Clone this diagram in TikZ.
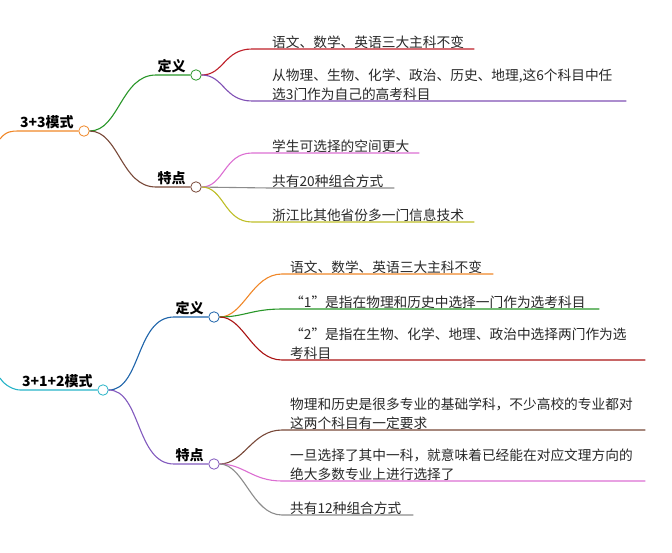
\documentclass[tikz,border=0pt]{standalone}
\usepackage{fontspec}
\setmainfont{Noto Sans CJK SC}
\usepackage{tikz}
\usetikzlibrary{positioning,calc}
\definecolor{mmorange}{RGB}{240,135,40}
\definecolor{mmgreen}{RGB}{40,150,40}
\definecolor{mmbrown}{RGB}{120,72,56}
\definecolor{mmred}{RGB}{190,30,40}
\definecolor{mmpurple}{RGB}{128,80,180}
\definecolor{mmpink}{RGB}{220,110,210}
\definecolor{mmgray}{RGB}{140,140,140}
\definecolor{mmolive}{RGB}{190,190,40}
\definecolor{mmteal}{RGB}{40,180,200}
\definecolor{mmblue}{RGB}{30,100,170}
\definecolor{mmviolet}{RGB}{130,90,190}
\definecolor{mmdarkred}{RGB}{170,20,20}
\definecolor{mmtext}{RGB}{40,40,40}
\tikzset{
  topic/.style={
    inner sep=1.5pt, font=\fontsize{14}{16}\selectfont\bfseries, text=black
  },
  dot/.style={
    circle, draw, thick, fill=white, minimum size=10.5pt, inner sep=0pt
  },
  leaf/.style={
    anchor=south west, inner xsep=2pt, inner ysep=0.3pt, align=left,
    font=\fontsize{13.7}{19}\selectfont, text=mmtext
  },
  link/.style={line width=1.1pt},
  linkO/.style={link, mmorange},
  linkG/.style={link, mmgreen},
  linkB/.style={link, mmbrown},
  linkR/.style={link, mmred},
  linkP/.style={link, mmpurple},
  linkK/.style={link, mmpink},
  linkY/.style={link, mmgray},
  linkL/.style={link, mmolive},
  linkT/.style={link, mmteal},
  linkU/.style={link, mmblue},
  linkV/.style={link, mmviolet},
  linkD/.style={link, mmdarkred}
}
\begin{document}
\begin{tikzpicture}[x=1pt, y=-1pt]
  \useasboundingbox (0,0) rectangle (672,552);

  % first mode: 3+3
  \coordinate (in1) at (0,139);
  \node[dot, draw=mmorange] (r1c) at (84,131) {};
  \node[topic, above left=0pt and 3pt of r1c.west] (r1) {3+3模式};
  \node[dot, draw=mmgreen]  (d1c) at (196,75) {};
  \node[topic, above left=0pt and 3pt of d1c.west] (d1) {定义};
  \node[dot, draw=mmbrown]  (t1c) at (196,187) {};
  \node[topic, above left=0pt and 3pt of t1c.west] (t1) {特点};

  \node[leaf, text width=200pt] (l1) at (270,49)  {语文、数学、英语三大主科不变};
  \node[leaf, text width=352pt] (l2) at (270,101) {从物理、生物、化学、政治、历史、地理,这6个科目中任\\选3门作为自己的高考科目};
  \node[leaf, text width=145pt] (l3) at (270,153) {学生可选择的空间更大};
  \node[leaf, text width=120pt] (l4) at (270,188) {共有20种组合方式};
  \node[leaf, text width=200pt] (l5) at (270,222) {浙江比其他省份多一门信息技术};

  \draw[linkO] (in1) .. controls +(6,-8) and +(-6,0) .. (r1.south west) -- (r1c);
  \draw[linkG] (r1c) .. controls +(35,0) and +(-35,0) .. (d1.south west) -- (d1c);
  \draw[linkB] (r1c) .. controls +(35,0) and +(-35,0) .. (t1.south west) -- (t1c);
  \draw[linkR] (d1c) .. controls +(28,0) and +(-28,0) .. ([xshift=-18pt]l1.south west) -- (l1.south east);
  \draw[linkP] (d1c) .. controls +(28,0) and +(-28,0) .. ([xshift=-18pt]l2.south west) -- (l2.south east);
  \draw[linkK] (t1c) .. controls +(28,0) and +(-28,0) .. ([xshift=-18pt]l3.south west) -- (l3.south east);
  \draw[linkY] (t1c) -- (l4.south west) -- (l4.south east);
  \draw[linkL] (t1c) .. controls +(28,0) and +(-28,0) .. ([xshift=-18pt]l5.south west) -- (l5.south east);

  % second mode: 3+1+2
  \coordinate (in2) at (0,378);
  \node[dot, draw=mmteal]   (r2c) at (103,390) {};
  \node[topic, above left=0pt and 3pt of r2c.west] (r2) {3+1+2模式};
  \node[dot, draw=mmblue]   (d2c) at (214,317) {};
  \node[topic, above left=0pt and 3pt of d2c.west] (d2) {定义};
  \node[dot, draw=mmviolet] (t2c) at (214,464) {};
  \node[topic, above left=0pt and 3pt of t2c.west] (t2) {特点};

  \node[leaf, text width=201pt] (m1) at (288,274) {语文、数学、英语三大主科不变};
  \node[leaf, text width=307pt] (m2) at (288,309) {“1”是指在物理和历史中选择一门作为选考科目};
  \node[leaf, text width=353pt] (m3) at (288,360) {“2”是指在生物、化学、地理、政治中选择两门作为选\\考科目};
  \node[leaf, text width=353pt] (m4) at (288,430) {物理和历史是很多专业的基础学科，不少高校的专业都对\\这两个科目有一定要求};
  \node[leaf, text width=353pt] (m5) at (288,481) {一旦选择了其中一科，就意味着已经能在对应文理方向的\\绝大多数专业上进行选择了};
  \node[leaf, text width=121pt] (m6) at (288,515) {共有12种组合方式};

  \draw[linkT] (in2) .. controls +(5,8) and +(-6,0) .. (r2.south west) -- (r2c);
  \draw[linkU] (r2c) .. controls +(38,0) and +(-38,0) .. (d2.south west) -- (d2c);
  \draw[linkV] (r2c) .. controls +(38,0) and +(-38,0) .. (t2.south west) -- (t2c);
  \draw[linkO] (d2c) .. controls +(30,0) and +(-30,0) .. ([xshift=-6pt]m1.south west) -- (m1.south east);
  \draw[linkG] (d2c) .. controls +(30,0) and +(-30,0) .. ([xshift=-6pt]m2.south west) -- (m2.south east);
  \draw[linkD] (d2c) .. controls +(30,0) and +(-30,0) .. ([xshift=-6pt]m3.south west) -- (m3.south east);
  \draw[linkB] (t2c) .. controls +(30,0) and +(-30,0) .. ([xshift=-6pt]m4.south west) -- (m4.south east);
  \draw[linkK] (t2c) .. controls +(30,0) and +(-30,0) .. ([xshift=-6pt]m5.south west) -- (m5.south east);
  \draw[linkY] (t2c) .. controls +(30,0) and +(-30,0) .. ([xshift=-6pt]m6.south west) -- (m6.south east);
\end{tikzpicture}
\end{document}
